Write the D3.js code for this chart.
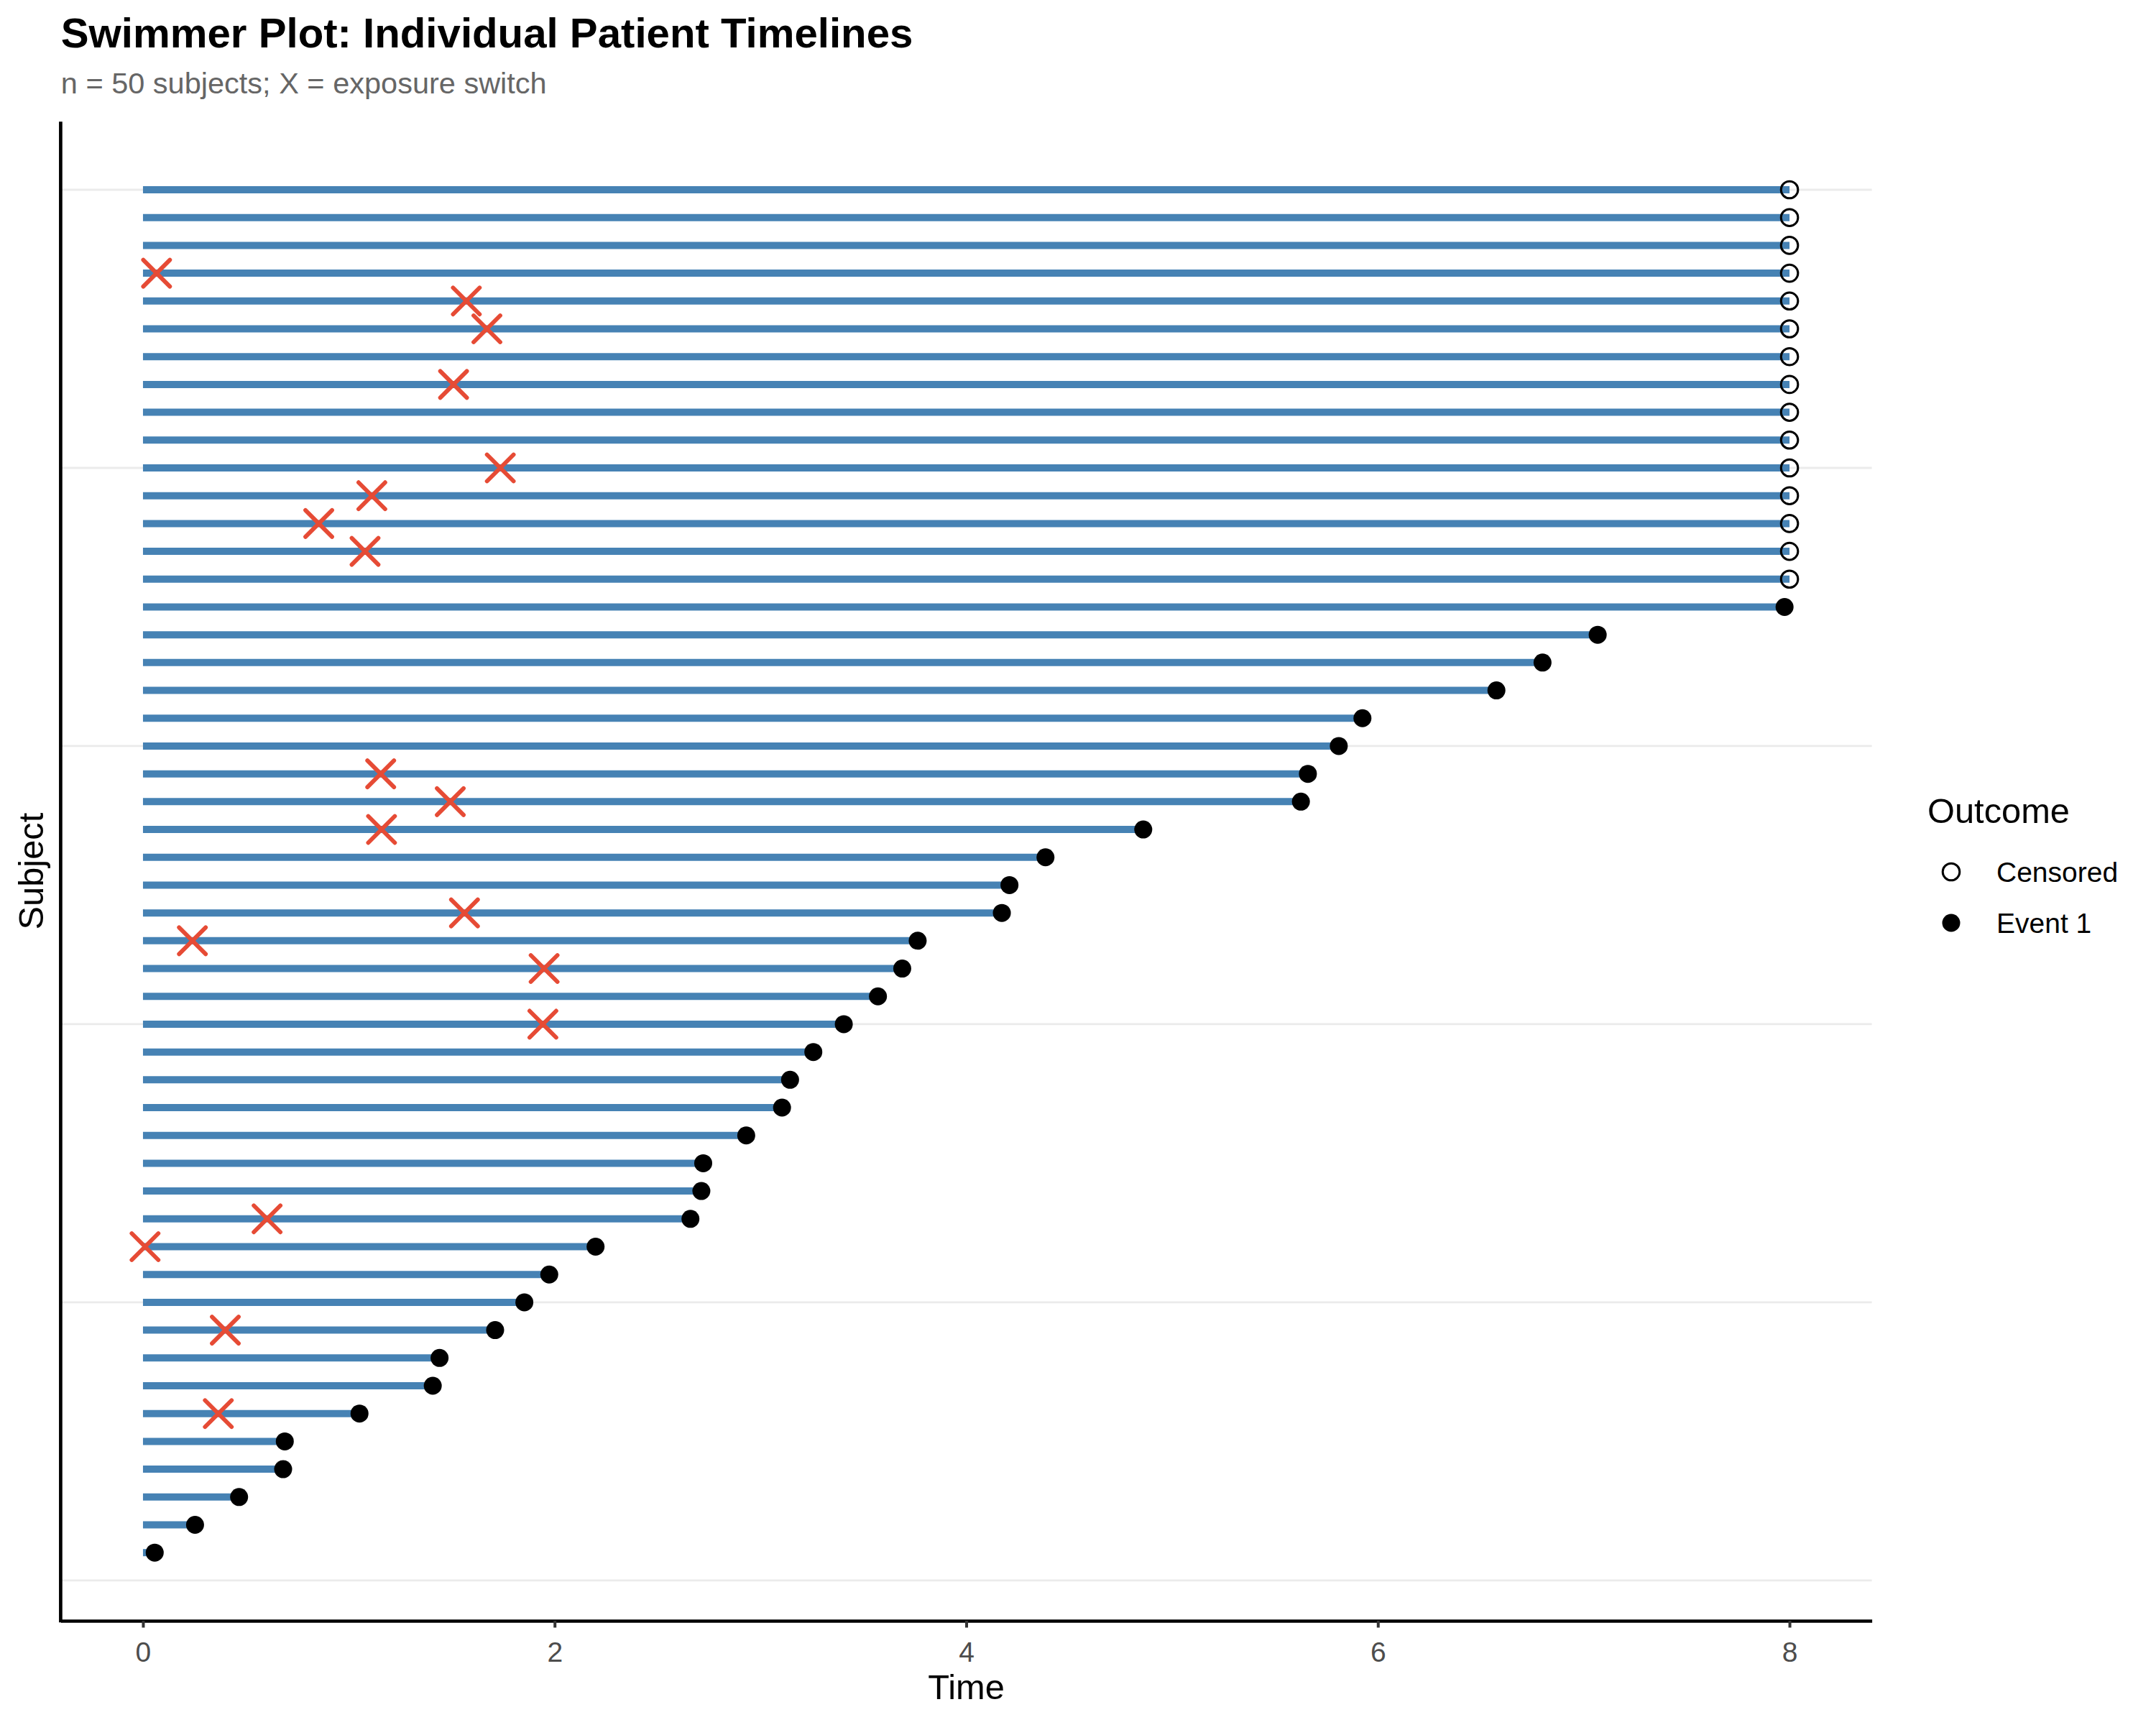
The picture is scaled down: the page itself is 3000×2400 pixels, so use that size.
<!DOCTYPE html>
<html>
<head>
<meta charset="utf-8">
<script src="https://cdn.jsdelivr.net/npm/d3@7"></script>
<style>
  html, body { margin: 0; padding: 0; background: #fff; }
  svg { display: block; }
  text { font-family: "Liberation Sans", Arial, Helvetica, sans-serif; }
</style>
</head>
<body>
<svg id="chart" width="3000" height="2400"></svg>
<script>
// ---- Data (subjects ordered bottom -> top) ----
const subjects = [1,2,3,4,5,6,7,8,9,10,11,12,13,14,15,16,17,18,19,20,21,22,23,24,25,
                  26,27,28,29,30,31,32,33,34,35,36,37,38,39,40,41,42,43,44,45,46,47,48,49,50];
const endTimes = [0.057,0.253,0.467,0.681,0.689,1.052,1.408,1.441,1.711,1.853,
                  1.974,2.199,2.660,2.713,2.722,2.931,3.105,3.144,3.257,3.405,
                  3.571,3.689,3.764,4.173,4.210,4.385,4.860,5.626,5.660,5.810,
                  5.925,6.576,6.800,7.068,7.976,8,8,8,8,8,
                  8,8,8,8,8,8,8,8,8,8];
const outcomes = ["Event 1","Event 1","Event 1","Event 1","Event 1","Event 1","Event 1","Event 1","Event 1","Event 1",
                  "Event 1","Event 1","Event 1","Event 1","Event 1","Event 1","Event 1","Event 1","Event 1","Event 1",
                  "Event 1","Event 1","Event 1","Event 1","Event 1","Event 1","Event 1","Event 1","Event 1","Event 1",
                  "Event 1","Event 1","Event 1","Event 1","Event 1","Censored","Censored","Censored","Censored","Censored",
                  "Censored","Censored","Censored","Censored","Censored","Censored","Censored","Censored","Censored","Censored"];
const switchSubjects = [6, 9, 12, 13, 20, 22, 23, 24, 27, 28, 29, 37, 38, 39, 40, 43, 45, 46, 47];
const switchTimes    = [0.366, 0.400, 0.010, 0.603, 1.943, 1.949, 0.240, 1.562, 1.159, 1.493,
                        1.155, 1.079, 0.854, 1.112, 1.736, 1.509, 1.671, 1.571, 0.066];
const xTicks = [0, 2, 4, 6, 8];
const yGrid = [0, 10, 20, 30, 40, 50];
const legendLabels = ["Censored", "Event 1"];

const titleText = "Swimmer Plot: Individual Patient Timelines";
const subtitleText = "n = 50 subjects; X = exposure switch";

// ---- Layout ----
const panel = { left: 84.4, right: 2604.6, top: 169.2, bottom: 2255 };
const svg = d3.select("#chart");
svg.append("rect").attr("width", 3000).attr("height", 2400).attr("fill", "#fff");

const x = d3.scaleLinear().domain([-0.4, 8.4]).range([panel.left, panel.right]);
const y = d3.scaleLinear().domain([-1.45, 52.45]).range([panel.bottom, panel.top]);

const rows = subjects.map((s, i) => ({ subject: s, time: endTimes[i], outcome: outcomes[i] }));
const switches = switchSubjects.map((s, i) => ({ subject: s, time: switchTimes[i] }));

// Gridlines
svg.append("g").selectAll("line").data(yGrid).join("line")
  .attr("x1", panel.left).attr("x2", panel.right)
  .attr("y1", d => y(d)).attr("y2", d => y(d))
  .attr("stroke", "#EBEBEB").attr("stroke-width", 2.8);

// Bars
svg.append("g").selectAll("line").data(rows).join("line")
  .attr("x1", x(0)).attr("x2", d => x(d.time))
  .attr("y1", d => y(d.subject)).attr("y2", d => y(d.subject))
  .attr("stroke", "#4682B4").attr("stroke-width", 10).attr("stroke-linecap", "butt");

// Switch markers (X)
const xs = 18.5;
const sw = svg.append("g").selectAll("g").data(switches).join("g")
  .attr("transform", d => `translate(${x(d.time)},${y(d.subject)})`);
sw.append("path")
  .attr("d", `M${-xs},${-xs}L${xs},${xs}M${-xs},${xs}L${xs},${-xs}`)
  .attr("stroke", "#E64B35").attr("stroke-width", 5.8).attr("stroke-linecap", "round").attr("fill", "none");

// End points
function drawPoint(sel, outcome) {
  if (outcome === "Censored") {
    sel.append("circle").attr("r", 11.8).attr("fill", "none")
      .attr("stroke", "#000").attr("stroke-width", 3);
  } else {
    sel.append("circle").attr("r", 12.5).attr("fill", "#000");
  }
}
svg.append("g").selectAll("g").data(rows).join("g")
  .attr("transform", d => `translate(${x(d.time)},${y(d.subject)})`)
  .each(function(d) { drawPoint(d3.select(this), d.outcome); });

// Axes
const xAxis = d3.axisBottom(x).tickValues(xTicks).tickSize(9.5).tickPadding(20).tickSizeOuter(0)
  .tickFormat(d3.format("d"));
const gx = svg.append("g").attr("transform", `translate(0,${panel.bottom})`).call(xAxis);
gx.select(".domain").attr("stroke", "#000").attr("stroke-width", 4.7);
gx.selectAll(".tick line").attr("stroke", "#333").attr("stroke-width", 4);
gx.selectAll(".tick text").attr("fill", "#4D4D4D").style("font-size", "39px")
  .style("font-family", "'Liberation Sans', Arial, sans-serif");

svg.append("line")
  .attr("x1", panel.left).attr("x2", panel.left)
  .attr("y1", panel.top).attr("y2", panel.bottom + 2.35)
  .attr("stroke", "#000").attr("stroke-width", 4.7);

// Axis titles
svg.append("text").attr("x", (panel.left + panel.right) / 2).attr("y", 2364)
  .attr("text-anchor", "middle").style("font-size", "48.8px").attr("fill", "#000").text("Time");
svg.append("text")
  .attr("transform", `translate(60,${(panel.top + panel.bottom) / 2}) rotate(-90)`)
  .attr("text-anchor", "middle").style("font-size", "48.8px").attr("fill", "#000").text("Subject");

// Title & subtitle
svg.append("text").attr("x", 84.8).attr("y", 66)
  .style("font-size", "58.2px").style("font-weight", "bold").attr("fill", "#000").text(titleText);
svg.append("text").attr("x", 84.8).attr("y", 130)
  .style("font-size", "41.5px").attr("fill", "#666666").text(subtitleText);

// Legend
const lg = svg.append("g");
lg.append("text").attr("x", 2682).attr("y", 1145).style("font-size", "48.8px").attr("fill", "#000").text("Outcome");
const keyY = [1213, 1284];
legendLabels.forEach((lab, i) => {
  const k = lg.append("g").attr("transform", `translate(2715,${keyY[i]})`);
  drawPoint(k, lab);
  lg.append("text").attr("x", 2778).attr("y", keyY[i] + 14).style("font-size", "39px").attr("fill", "#000").text(lab);
});
</script>
</body>
</html>
